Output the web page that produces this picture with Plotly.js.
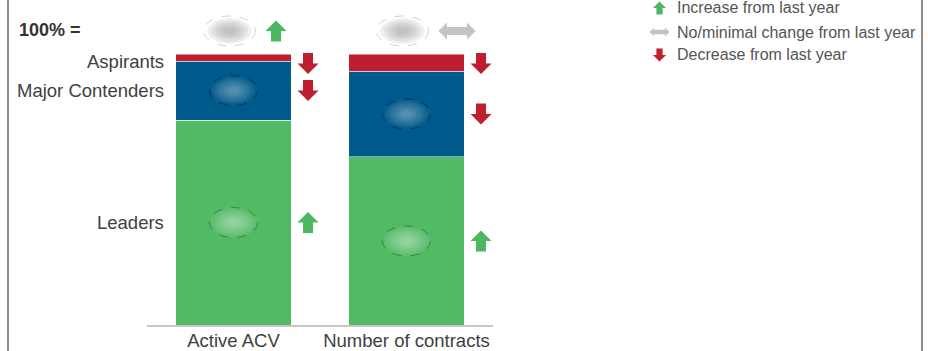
<!DOCTYPE html>
<html><head><meta charset="utf-8">
<script src="https://cdn.plot.ly/plotly-3.0.1.min.js"></script>
<style>html,body{margin:0;padding:0;background:#fff;} #chart{width:928px;height:351px;}</style>
</head><body><div id="chart"></div>
<script>
// ---- data ----
const categories = ['Active ACV', 'Number of contracts'];
const segmentNames = ['Leaders', 'Major Contenders', 'Aspirants'];
const leaders = [75.6, 62.0];
const majorContenders = [21.8, 31.7];
const aspirants = [2.6, 6.3];
const totalChange = ['up', 'flat'];
const leadersChange = ['up', 'up'];
const majorChange = ['down', 'down'];
const aspirantsChange = ['down', 'down'];
const legendLabels = ['Increase from last year', 'No/minimal change from last year', 'Decrease from last year'];
const legendKinds = ['up', 'flat', 'down'];

// ---- styling / geometry ----
const FONT = 'Liberation Sans, Arial, sans-serif';
const C_GREEN = '#52BA65', C_BLUE = '#00598B', C_RED = '#BE1E2D';
const ARROW_COL = {up: '#4DB660', down: '#BE1E2D', flat: '#C3C3C3'};
const ML = 147, MR = 435, MT = 0, MB = 26, W = 928, H = 351;
const PW = W - ML - MR, PH = H - MT - MB;
const yMax = 100 * PH / 271;
const pxPerUnit = PH / yMax;
const halfBar = (1 - 0.335) / 2;
const px = x => (x - ML) / PW;
const py = y => (H - MB - y) / PH;
const topRowY = (H - MB - 31 - MT) / pxPerUnit;

const xs = categories.map((c, i) => i);

function arrowPts(kind) {
  if (kind === 'flat') return [[-18.5,0],[-10,8.5],[-10,4],[10,4],[10,8.5],[18.5,0],[10,-8.5],[10,-4],[-10,-4],[-10,-8.5]];
  const up = [[0,10.5],[10.5,0],[5,0],[5,-10.5],[-5,-10.5],[-5,0],[-10.5,0]];
  return kind === 'up' ? up : up.map(p => [p[0], -p[1]]);
}
function arrowShape(kind, xref, yref, xa, ya, scale, dx) {
  const pts = arrowPts(kind);
  const path = 'M' + pts.map(p => (p[0]*scale + dx).toFixed(2) + ',' + (p[1]*scale).toFixed(2)).join('L') + 'Z';
  return {type: 'path', xref, yref, xsizemode: 'pixel', ysizemode: 'pixel', xanchor: xa, yanchor: ya,
          path, fillcolor: ARROW_COL[kind], line: {width: 0}, layer: 'above'};
}
function ovalShapes(xa, ya, w, h, dx, outerFill, layerFill, outline) {
  const out = [];
  out.push({type: 'circle', xref: 'x', yref: 'y', xsizemode: 'pixel', ysizemode: 'pixel', xanchor: xa, yanchor: ya,
            x0: dx - w/2, x1: dx + w/2, y0: -h/2, y1: h/2, fillcolor: outerFill, line: {color: outline, width: 1, dash: 'dash'}, layer: 'above'});
  for (let k = 1; k <= 5; k++) {
    const f = 1 - k * 0.15;
    out.push({type: 'circle', xref: 'x', yref: 'y', xsizemode: 'pixel', ysizemode: 'pixel', xanchor: xa, yanchor: ya,
              x0: dx - w/2*f, x1: dx + w/2*f, y0: -h/2*f, y1: h/2*f, fillcolor: layerFill, line: {width: 0}, layer: 'above'});
  }
  return out;
}

const segArrowY = (base, val) => Math.min(base + val/2, 100 - 9.5/pxPerUnit);

const traces = [
  {type: 'bar', name: segmentNames[0], x: xs, y: leaders, marker: {color: C_GREEN, line: {color: 'rgba(255,255,255,0.6)', width: 0.8}}, hoverinfo: 'skip'},
  {type: 'bar', name: segmentNames[1], x: xs, y: majorContenders, marker: {color: C_BLUE, line: {color: 'rgba(255,255,255,0.6)', width: 0.8}}, hoverinfo: 'skip'},
  {type: 'bar', name: segmentNames[2], x: xs, y: aspirants, marker: {color: C_RED, line: {color: 'rgba(255,255,255,0.6)', width: 0.8}}, hoverinfo: 'skip'}
];

const shapes = [];
const annotations = [];

// frame
[8, 922].forEach(x => shapes.push({type: 'line', xref: 'paper', yref: 'paper', x0: px(x), x1: px(x), y0: py(H), y1: py(0), line: {color: '#8C8C8C', width: 2}}));

xs.forEach(i => {
  const segs = [
    {base: 0, val: leaders[i], chg: leadersChange[i], outer: 'rgba(255,255,255,0.06)', fill: 'rgba(255,255,255,0.08)', outline: 'rgba(30,90,40,0.55)'},
    {base: leaders[i], val: majorContenders[i], chg: majorChange[i], outer: 'rgba(255,255,255,0.03)', fill: 'rgba(255,255,255,0.07)', outline: 'rgba(0,30,60,0.6)'},
    {base: leaders[i] + majorContenders[i], val: aspirants[i], chg: aspirantsChange[i]}
  ];
  segs.forEach((s, k) => {
    shapes.push(arrowShape(s.chg, 'x', 'y', i + halfBar, segArrowY(s.base, s.val), 1, 17));
    if (k < 2) ovalShapes(i, s.base + s.val/2, 48, 30, 0, s.outer, s.fill, s.outline).forEach(o => shapes.push(o));
  });
  // total row
  ovalShapes(i, topRowY, 52, 30, -4, 'rgba(255,255,255,1)', 'rgba(140,140,140,0.14)', 'rgba(190,190,190,0.7)').forEach(o => shapes.push(o));
  const half = totalChange[i] === 'flat' ? 18.5 : 10.5;
  shapes.push(arrowShape(totalChange[i], 'x', 'y', i, topRowY, 1, 32 + half));
  if (i === 0) {
    segs.forEach((s, k) => annotations.push({xref: 'x', yref: 'y', x: -0.5, y: segArrowY(s.base, s.val) + (k === 2 ? 0.6 : 0), xanchor: 'right', yanchor: 'middle', xshift: 19,
      text: segmentNames[k], showarrow: false, font: {family: FONT, size: 18.5, color: '#404040'}}));
  }
});

annotations.push({xref: 'paper', yref: 'y', x: px(17), y: topRowY + 0.3, xanchor: 'left', yanchor: 'middle', text: '<b>100% =</b>', showarrow: false,
  font: {family: FONT, size: 18, color: '#333333'}});

// legend
const legRows = [8, 32, 55];
legendLabels.forEach((t, k) => {
  annotations.push({xref: 'paper', yref: 'paper', x: px(675), y: py(legRows[k]), xanchor: 'left', yanchor: 'middle', text: t, showarrow: false,
    font: {family: FONT, size: 16, color: '#555555'}});
  const sc = legendKinds[k] === 'flat' ? 0.54 : 0.62;
  shapes.push(arrowShape(legendKinds[k], 'paper', 'paper', px(659.5), py(legRows[k]), sc, 0));
});

const layout = {
  width: W, height: H,
  margin: {l: ML, r: MR, t: MT, b: MB, pad: 0},
  paper_bgcolor: '#ffffff', plot_bgcolor: '#ffffff',
  barmode: 'stack', bargap: 0.335, showlegend: false,
  xaxis: {type: 'linear', range: [-0.5, 1.5], tickvals: xs, ticktext: categories, showline: true, linecolor: '#C8C8C8', linewidth: 1.5,
          ticks: '', ticklabelstandoff: -2, showgrid: false, zeroline: false, tickfont: {family: FONT, size: 18.5, color: '#404040'}, fixedrange: true},
  yaxis: {range: [0, yMax], visible: false, fixedrange: true},
  shapes, annotations
};

Plotly.newPlot('chart', traces, layout, {displayModeBar: false, staticPlot: true});
</script>
</body></html>
